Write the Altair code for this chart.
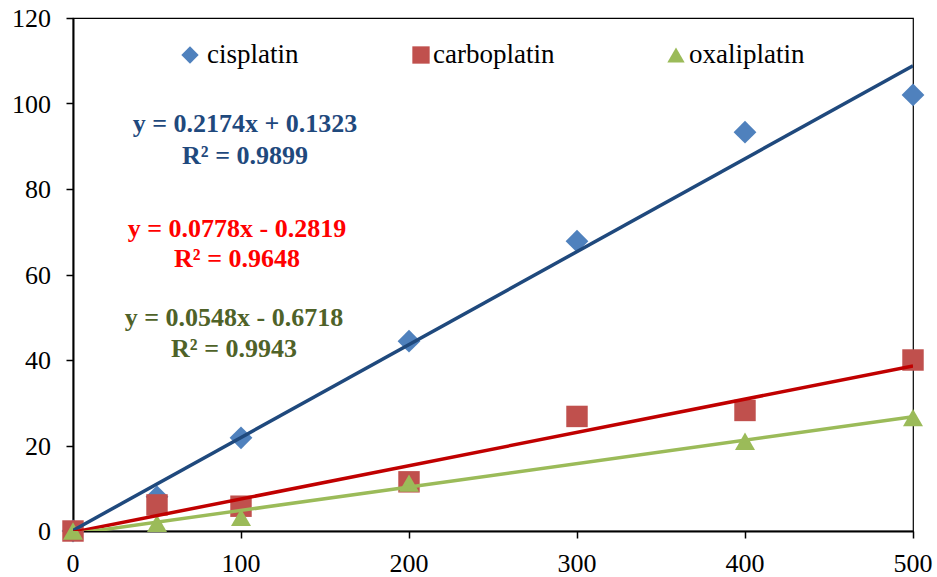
import altair as alt
import pandas as pd

# ---- data ----
x_vals = [0, 50, 100, 200, 300, 400, 500]
cisplatin = [0, 8.0, 21.8, 44.4, 67.8, 93.3, 102.0]
carboplatin = [0, 6.1, 5.8, 11.5, 26.8, 28.2, 40.0]
oxaliplatin = [0, 1.8, 3.2, 11.2, None, 21.0, 26.5]

series = ["cisplatin", "carboplatin", "oxaliplatin"]
slopes = [0.2174, 0.0778, 0.0548]
intercepts = [0.1323, -0.2819, -0.6718]
r2 = [0.9899, 0.9648, 0.9943]
x_range = [0, 500]
x_ticks = [0, 100, 200, 300, 400, 500]
y_ticks = [0, 20, 40, 60, 80, 100, 120]

marker_colors = ["#4F81BD", "#C0504D", "#9BBB59"]
line_colors = ["#1F497D", "#C00000", "#9BBB59"]
text_colors = ["#1F497D", "#FF0000", "#4F6228"]
shapes = ["diamond", "square", "triangle-up"]
marker_sizes = [520, 400, 420]

rows = []
for name, vals in zip(series, [cisplatin, carboplatin, oxaliplatin]):
    for x, y in zip(x_vals, vals):
        if y is not None:
            rows.append({"series": name, "x": x, "y": y})
pts = pd.DataFrame(rows)

lrows = []
for name, m, b in zip(series, slopes, intercepts):
    for x in x_range:
        lrows.append({"series": name, "x": x, "y": m * x + b})
lines_df = pd.DataFrame(lrows)

FONT = "Liberation Serif"
W, H = 840, 513

xenc = alt.X("x:Q", scale=alt.Scale(domain=[0, 500], nice=False),
             axis=alt.Axis(values=x_ticks, title=None, grid=False, labels=False))
yenc = alt.Y("y:Q", scale=alt.Scale(domain=[0, 120], nice=False),
             axis=alt.Axis(values=y_ticks, title=None, grid=False, labels=False))

points = alt.Chart(pts).mark_point(filled=True, opacity=1, clip=False).encode(
    x=xenc, y=yenc,
    color=alt.Color("series:N", scale=alt.Scale(domain=series, range=marker_colors), legend=None),
    shape=alt.Shape("series:N", scale=alt.Scale(domain=series, range=shapes), legend=None),
    size=alt.Size("series:N", scale=alt.Scale(domain=series, range=marker_sizes), legend=None),
)

lines = alt.Chart(lines_df).mark_line(strokeWidth=3.5, clip=True).encode(
    x=xenc, y=yenc,
    color=alt.Color("series:N", scale=alt.Scale(domain=series, range=line_colors), legend=None),
    detail="series:N",
)

# tick labels drawn as text marks (serif font)
xlab = alt.Chart(pd.DataFrame({"x": x_ticks})).mark_text(
    font=FONT, fontSize=26, color="black", align="center", baseline="alphabetic"
).encode(x=xenc, y=alt.value(H + 41), text=alt.Text("x:Q", format="d"))
ylab = alt.Chart(pd.DataFrame({"y": y_ticks})).mark_text(
    font=FONT, fontSize=26, color="black", align="right", baseline="alphabetic", dy=9
).encode(y=yenc, x=alt.value(-22), text=alt.Text("y:Q", format="d"))

# manual legend (pixel positions within plot area)
leg_sym_x = [117, 348, 603]
leg_txt_x = [134, 360, 616]
leg_y = 37
legend_layers = []
for i, name in enumerate(series):
    legend_layers.append(
        alt.Chart(pd.DataFrame({"s": [name]})).mark_point(
            filled=True, opacity=1, shape=shapes[i], color=marker_colors[i], size=300
        ).encode(x=alt.value(leg_sym_x[i]), y=alt.value(leg_y))
    )
    legend_layers.append(
        alt.Chart(pd.DataFrame({"s": [name]})).mark_text(
            font=FONT, fontSize=27, color="black", align="left", baseline="middle"
        ).encode(x=alt.value(leg_txt_x[i]), y=alt.value(leg_y), text="s:N")
    )

def fmt_eq(m, b):
    sign = "+" if b >= 0 else "-"
    return f"y = {m:.4f}x {sign} {abs(b):.4f}"

# annotation positions (pixels within plot area): center x, baselines
ann_pos = [(172, 114, 146), (164, 219, 249), (161, 308, 339)]
texts = []
for i, (px, py1, py2) in enumerate(ann_pos):
    for txt, py in [(fmt_eq(slopes[i], intercepts[i]), py1), (f"R² = {r2[i]:.4f}", py2)]:
        texts.append(
            alt.Chart(pd.DataFrame({"t": [txt]})).mark_text(
                font=FONT, fontSize=26, fontWeight="bold", color=text_colors[i],
                align="center", baseline="alphabetic"
            ).encode(x=alt.value(px), y=alt.value(py), text="t:N")
        )

chart = alt.layer(points, lines, xlab, ylab, *legend_layers, *texts).resolve_scale(
    color="independent"
).properties(
    width=W, height=H,
    padding={"left": 73, "top": 18, "right": 24, "bottom": 46},
    autosize=alt.AutoSizeParams(type="none"),
    background="white",
).configure_view(stroke="black", strokeWidth=1.2).configure_axis(
    domainColor="black", domainWidth=2, tickColor="black",
    tickWidth=1.5, tickSize=7,
)

chart.save("out.html", embed_options={"renderer": "svg", "actions": False})
